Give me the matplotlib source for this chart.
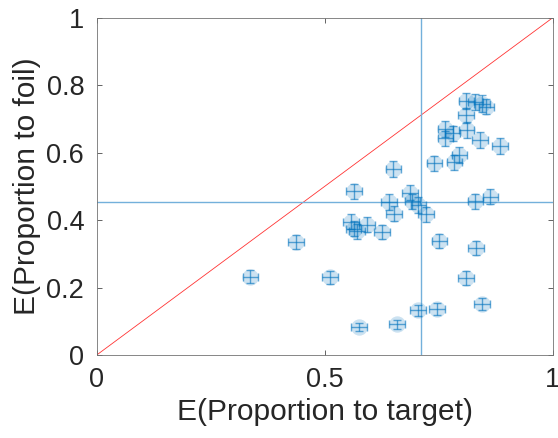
import matplotlib
matplotlib.use("Agg")
import matplotlib.pyplot as plt
import numpy as np

plt.rcParams['font.family'] = ['Liberation Sans', 'DejaVu Sans']

# Expected proportions (target, foil) per item
prop_target = [0.810, 0.830, 0.845, 0.854, 0.809, 0.764, 0.780, 0.764, 0.811, 0.840,
               0.884, 0.795, 0.784, 0.740, 0.650, 0.564, 0.687, 0.641, 0.692, 0.705,
               0.830, 0.863, 0.652, 0.722, 0.557, 0.592, 0.563, 0.570, 0.625, 0.437,
               0.751, 0.831, 0.337, 0.511, 0.809, 0.844, 0.704, 0.746, 0.575, 0.658]
prop_foil = [0.753, 0.750, 0.745, 0.736, 0.710, 0.669, 0.657, 0.642, 0.666, 0.637,
             0.619, 0.593, 0.571, 0.568, 0.551, 0.485, 0.481, 0.454, 0.455, 0.444,
             0.455, 0.469, 0.419, 0.417, 0.395, 0.386, 0.374, 0.366, 0.364, 0.334,
             0.339, 0.316, 0.232, 0.230, 0.228, 0.150, 0.133, 0.137, 0.084, 0.091]
err_target = [0.017] * 40
err_foil = [0.024, 0.024, 0.024, 0.023, 0.023, 0.024, 0.023, 0.023, 0.023, 0.023,
            0.023, 0.023, 0.023, 0.023, 0.023, 0.023, 0.023, 0.023, 0.023, 0.023,
            0.023, 0.023, 0.022, 0.022, 0.022, 0.022, 0.022, 0.022, 0.021, 0.021,
            0.021, 0.021, 0.020, 0.019, 0.020, 0.018, 0.016, 0.017, 0.012, 0.013]
mean_target = 0.711
mean_foil = 0.453

blue = (0.0, 0.447, 0.741)
line_blue = (0.45, 0.69, 0.86)
ax_col = '0.15'

fig = plt.figure(figsize=(5.58, 4.38), dpi=100)
ax = fig.add_axes([0.1733, 0.1895, 0.8177, 0.7705])

ax.plot([0, 1], [0, 1], color=(1, 0, 0), lw=0.6, alpha=0.8, zorder=1)
ax.axvline(mean_target, color=line_blue, lw=1.0, zorder=1)
ax.axhline(mean_foil, color=line_blue, lw=1.0, zorder=1)

ax.plot(prop_target, prop_foil, 'o', ms=11.8, mfc=blue, mec='none', alpha=0.2, zorder=2)
ax.errorbar(prop_target, prop_foil, xerr=err_target, yerr=err_foil, fmt='none',
            ecolor=blue, elinewidth=1.0, capsize=2.6, capthick=1.0, alpha=0.6, zorder=3)

ax.set_xlim(0, 1)
ax.set_ylim(0, 1)
ax.set_xticks([0, 0.5, 1])
ax.set_xticklabels(['0', '0.5', '1'])
ax.set_yticks([0, 0.2, 0.4, 0.6, 0.8, 1])
ax.set_yticklabels(['0', '0.2', '0.4', '0.6', '0.8', '1'])
ax.tick_params(direction='in', top=True, right=True, length=3.5, width=0.5,
               colors=ax_col, labelsize=19.5, labelcolor=ax_col)
ax.tick_params(axis='x', pad=9)
ax.tick_params(axis='y', pad=9)
for s in ax.spines.values():
    s.set_color('0.45')
    s.set_linewidth(0.6)

ax.set_xlabel('E(Proportion to target)', fontsize=21.5, color=ax_col, labelpad=3)
ax.set_ylabel('E(Proportion to foil)', fontsize=21.5, color=ax_col, labelpad=4)

fig.savefig('out.png', dpi=100)
